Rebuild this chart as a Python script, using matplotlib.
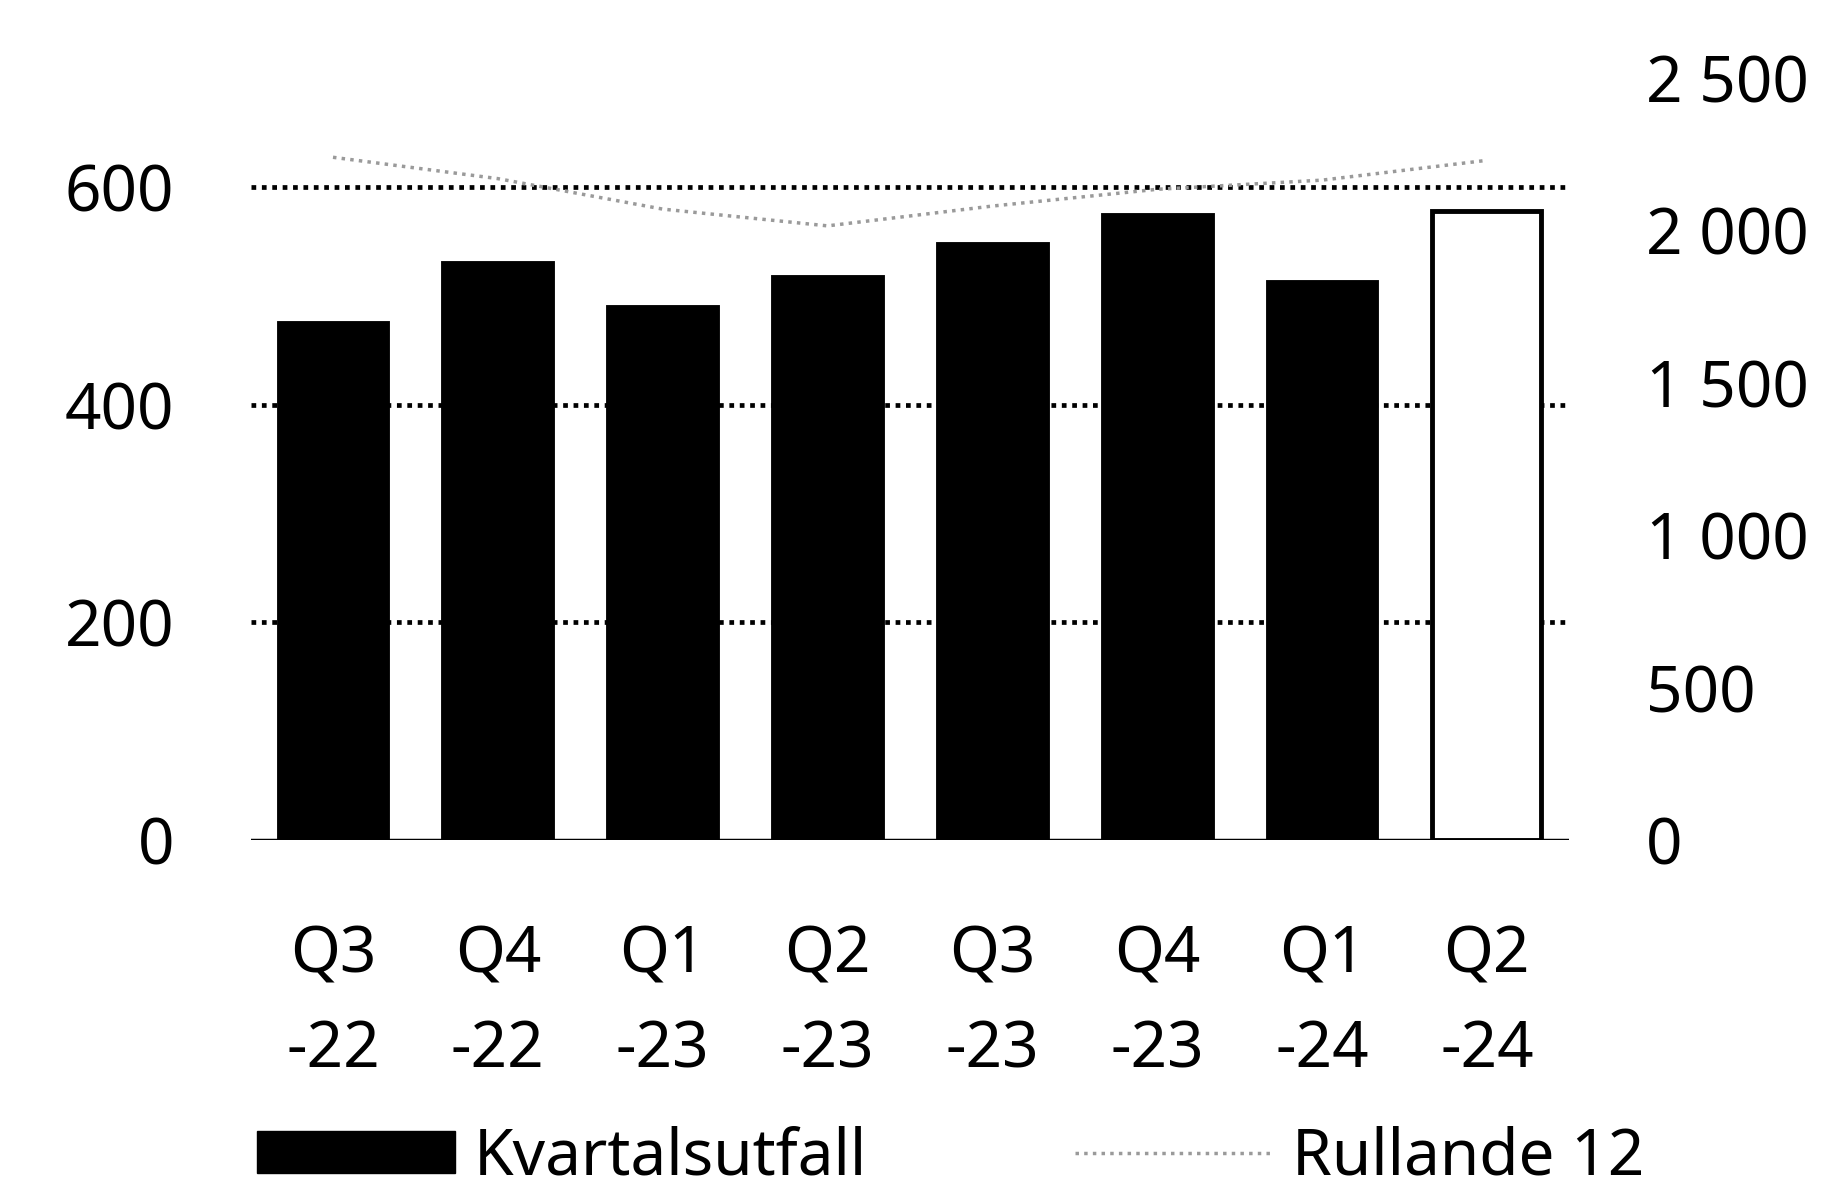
import matplotlib
matplotlib.use("Agg")
import matplotlib.pyplot as plt
from matplotlib.patches import Patch
from matplotlib.lines import Line2D

categories = ["Q3\n-22", "Q4\n-22", "Q1\n-23", "Q2\n-23", "Q3\n-23", "Q4\n-23", "Q1\n-24", "Q2\n-24"]
kvartal = [475, 530, 490, 517, 548, 574, 513, 578]
rullande = [2240, 2170, 2070, 2015, 2080, 2135, 2165, 2230]
left_ticks = [0, 200, 400, 600]
right_ticks = [0, 500, 1000, 1500, 2000, 2500]
right_labels = ["0", "500", "1 000", "1 500", "2 000", "2 500"]

plt.rcParams['font.family'] = ['Noto Sans', 'DejaVu Sans']
FS = 46

fig = plt.figure(figsize=(18.29, 11.86), dpi=100)
ax = fig.add_axes([0.137, 0.2917, 0.721, 0.6425])
ax2 = ax.twinx()

x = list(range(len(categories)))
colors = ["black"] * (len(categories) - 1) + ["white"]
ax.bar(x, kvartal, width=0.66, color=colors, edgecolor="black", linewidth=3.5, zorder=3)
ax.set_xlim(-0.5, len(categories) - 0.5)
ax.set_ylim(0, 700)
ax.set_yticks(left_ticks)
ax.set_yticklabels([str(v) for v in left_ticks], fontsize=FS)
ax.set_xticks(x)
ax.set_xticklabels(categories, fontsize=FS, linespacing=1.63)
ax.tick_params(axis="both", length=0)
ax.tick_params(axis="y", pad=55)
ax.tick_params(axis="x", pad=60)
for v in left_ticks[1:]:
    ax.axhline(v, color="black", linewidth=3.4, linestyle=(0, (1, 1.2)), zorder=2)
ax.axhline(0, color="black", linewidth=2.5, zorder=4)

ax2.plot(x, rullande, color="#9a9a9a", linewidth=2.5, linestyle=(0, (1, 1.5)), zorder=5)
ax2.set_ylim(0, 2500)
ax2.set_yticks(right_ticks)
ax2.set_yticklabels(right_labels, fontsize=FS)
ax2.tick_params(axis="y", length=0, pad=55)

for a in (ax, ax2):
    for s in a.spines.values():
        s.set_visible(False)

handles = [Patch(facecolor="black", edgecolor="black"),
           Line2D([0], [0], color="#9a9a9a", linewidth=2.5, linestyle=(0, (1, 1.5)))]
fig.legend(handles, ["Kvartalsutfall", "Rullande 12"], loc="center left",
           bbox_to_anchor=(0.1403, 0.024), ncol=2, frameon=False, fontsize=FS,
           handlelength=3.1, handleheight=0.65, handletextpad=0.3, columnspacing=3.25,
           borderpad=0, borderaxespad=0)

fig.savefig("out.png", dpi=100)
